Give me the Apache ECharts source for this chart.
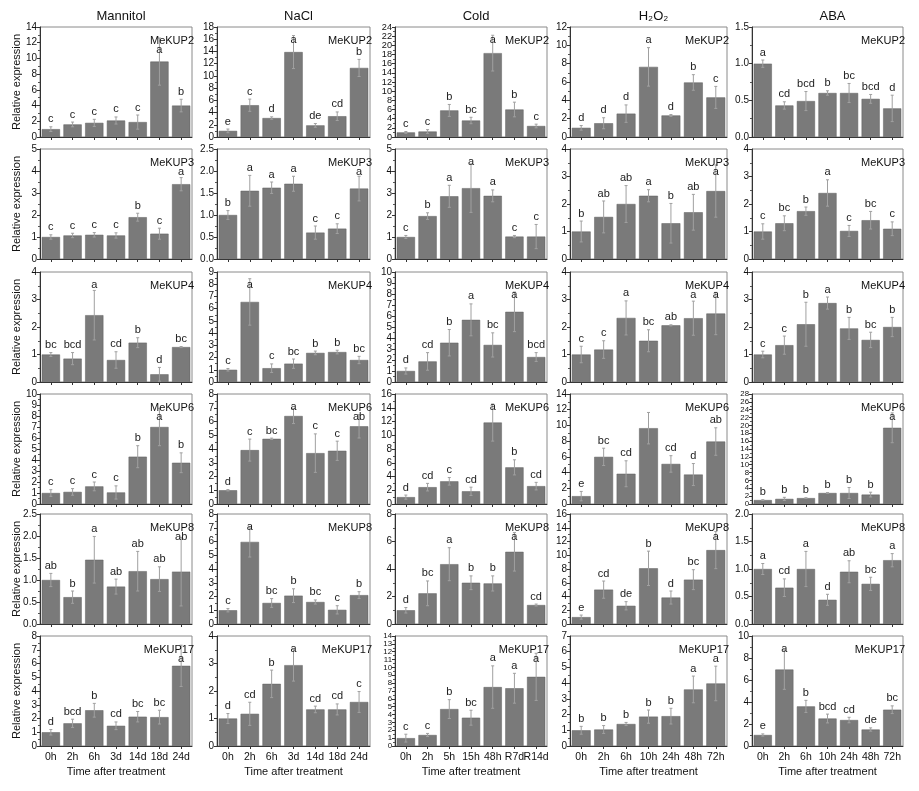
<!DOCTYPE html>
<html>
<head>
<meta charset="utf-8">
<script src="https://cdn.jsdelivr.net/npm/echarts@6/dist/echarts.min.js"></script>
<style>html,body{margin:0;padding:0;background:#fff}#c{width:919px;height:791px}</style>
</head>
<body>
<div id="c"></div>
<script>
// ---------- DATA ----------
const treatments = ['Mannitol', 'NaCl', 'Cold', 'H₂O₂', 'ABA'];
const genes = ['MeKUP2', 'MeKUP3', 'MeKUP4', 'MeKUP6', 'MeKUP8', 'MeKUP17'];

const catsMannitol = ['0h', '2h', '6h', '3d', '14d', '18d', '24d'];
const catsNaCl = ['0h', '2h', '6h', '3d', '14d', '18d', '24d'];
const catsCold = ['0h', '2h', '5h', '15h', '48h', 'R7d', 'R14d'];
const catsH2O2 = ['0h', '2h', '6h', '10h', '24h', '48h', '72h'];
const catsABA = ['0h', '2h', '6h', '10h', '24h', '48h', '72h'];

// per gene (rows): MeKUP2, MeKUP3, MeKUP4, MeKUP6, MeKUP8, MeKUP17
const mannitolMean = [
  [1.0, 1.6, 1.8, 2.1, 1.9, 9.6, 4.0],
  [1.0, 1.07, 1.1, 1.07, 1.9, 1.15, 3.4],
  [1.0, 0.85, 2.43, 0.8, 1.43, 0.28, 1.27],
  [1.0, 1.1, 1.6, 1.05, 4.3, 7.0, 3.75],
  [1.0, 0.61, 1.46, 0.85, 1.2, 1.02, 1.19],
  [1.0, 1.65, 2.6, 1.47, 2.13, 2.1, 5.83]
];
const mannitolErr = [
  [0.3, 0.3, 0.45, 0.45, 0.9, 3.0, 0.8],
  [0.1, 0.1, 0.1, 0.12, 0.18, 0.25, 0.3],
  [0.07, 0.22, 0.9, 0.3, 0.18, 0.25, 0.02],
  [0.3, 0.3, 0.4, 0.6, 1.0, 1.7, 0.9],
  [0.15, 0.14, 0.53, 0.17, 0.45, 0.28, 0.78],
  [0.2, 0.3, 0.5, 0.28, 0.38, 0.5, 1.5]
];
const mannitolSig = [
  ['c', 'c', 'c', 'c', 'c', 'a', 'b'],
  ['c', 'c', 'c', 'c', 'b', 'c', 'a'],
  ['bc', 'bcd', 'a', 'cd', 'b', 'd', 'bc'],
  ['c', 'c', 'c', 'c', 'b', 'a', 'b'],
  ['ab', 'b', 'a', 'ab', 'ab', 'ab', 'ab'],
  ['d', 'bcd', 'b', 'cd', 'bc', 'bc', 'a']
];
const mannitolYMax = [14, 5, 4, 10, 2.5, 8];
const mannitolYStep = [2, 1, 1, 1, 0.5, 1];

const naclMean = [
  [1.0, 5.2, 3.1, 13.9, 1.9, 3.4, 11.3],
  [1.0, 1.55, 1.62, 1.71, 0.6, 0.69, 1.6],
  [1.0, 6.55, 1.13, 1.5, 2.38, 2.45, 1.8],
  [1.0, 3.92, 4.74, 6.4, 3.7, 3.87, 5.65],
  [1.0, 5.97, 1.53, 2.06, 1.6, 1.03, 2.1],
  [1.0, 1.17, 2.26, 2.94, 1.33, 1.33, 1.6]
];
const naclErr = [
  [0.3, 1.0, 0.2, 2.7, 0.3, 0.7, 1.4],
  [0.1, 0.35, 0.13, 0.17, 0.15, 0.11, 0.28],
  [0.1, 1.9, 0.35, 0.38, 0.15, 0.15, 0.3],
  [0.05, 0.8, 0.05, 0.55, 1.4, 0.7, 0.85],
  [0.12, 1.1, 0.32, 0.5, 0.15, 0.3, 0.25],
  [0.18, 0.42, 0.5, 0.58, 0.12, 0.2, 0.38]
];
const naclSig = [
  ['e', 'c', 'd', 'a', 'de', 'cd', 'b'],
  ['b', 'a', 'a', 'a', 'c', 'c', 'a'],
  ['c', 'a', 'c', 'bc', 'b', 'b', 'bc'],
  ['d', 'c', 'bc', 'a', 'c', 'c', 'ab'],
  ['c', 'a', 'bc', 'b', 'bc', 'c', 'b'],
  ['d', 'cd', 'b', 'a', 'cd', 'cd', 'c']
];
const naclYMax = [18, 2.5, 9, 8, 8, 4];
const naclYStep = [2, 0.5, 1, 1, 1, 1];

const coldMean = [
  [1.0, 1.2, 5.8, 3.6, 18.3, 6.0, 2.4],
  [1.0, 1.95, 2.85, 3.22, 2.87, 1.02, 1.02],
  [1.0, 1.87, 3.57, 5.65, 3.37, 6.38, 2.27],
  [1.0, 2.45, 3.3, 1.85, 11.85, 5.33, 2.6],
  [1.0, 2.23, 4.35, 3.0, 2.95, 5.25, 1.38],
  [1.0, 1.4, 4.7, 3.6, 7.5, 7.35, 8.8]
];
const coldErr = [
  [0.2, 0.4, 1.3, 0.7, 3.9, 1.6, 0.4],
  [0.07, 0.15, 0.5, 1.1, 0.27, 0.05, 0.55],
  [0.28, 0.8, 1.2, 1.45, 1.1, 1.8, 0.4],
  [0.3, 0.55, 0.55, 0.6, 2.7, 1.1, 0.55],
  [0.2, 0.9, 1.2, 0.5, 0.55, 1.4, 0.07],
  [0.5, 0.2, 1.2, 0.95, 2.7, 1.9, 3.0]
];
const coldSig = [
  ['c', 'c', 'b', 'bc', 'a', 'b', 'c'],
  ['c', 'b', 'a', 'a', 'a', 'c', 'c'],
  ['d', 'cd', 'b', 'a', 'bc', 'a', 'bcd'],
  ['d', 'cd', 'c', 'cd', 'a', 'b', 'cd'],
  ['d', 'bc', 'a', 'b', 'b', 'a', 'cd'],
  ['c', 'c', 'b', 'bc', 'a', 'a', 'a']
];
const coldYMax = [24, 5, 10, 16, 8, 14];
const coldYStep = [2, 1, 1, 2, 2, 1];

const h2o2Mean = [
  [1.0, 1.5, 2.55, 7.65, 2.35, 5.95, 4.32],
  [1.0, 1.53, 2.0, 2.3, 1.3, 1.7, 2.47],
  [1.0, 1.18, 2.33, 1.5, 2.06, 2.32, 2.49],
  [1.0, 6.0, 3.85, 9.65, 5.1, 3.75, 7.95],
  [1.0, 5.0, 2.65, 8.1, 3.85, 6.45, 10.75],
  [1.0, 1.05, 1.4, 1.87, 1.9, 3.6, 3.98]
];
const h2o2Err = [
  [0.25, 0.6, 0.95, 2.1, 0.1, 0.85, 1.2],
  [0.38, 0.58, 0.67, 0.22, 0.72, 0.65, 0.95],
  [0.3, 0.32, 0.62, 0.4, 0.02, 0.62, 0.77],
  [0.6, 1.1, 1.65, 2.0, 1.05, 1.4, 1.75],
  [0.3, 1.25, 0.6, 2.5, 0.95, 1.45, 2.7],
  [0.25, 0.25, 0.1, 0.42, 0.5, 0.85, 1.1]
];
const h2o2Sig = [
  ['d', 'd', 'd', 'a', 'd', 'b', 'c'],
  ['b', 'ab', 'ab', 'a', 'b', 'ab', 'a'],
  ['c', 'c', 'a', 'bc', 'ab', 'a', 'a'],
  ['e', 'bc', 'cd', '', 'cd', 'd', 'ab'],
  ['e', 'cd', 'de', 'b', 'd', 'bc', 'a'],
  ['b', 'b', 'b', 'b', 'b', 'a', 'a']
];
const h2o2YMax = [12, 4, 4, 14, 16, 7];
const h2o2YStep = [2, 1, 1, 2, 2, 1];

const abaMean = [
  [1.0, 0.43, 0.49, 0.6, 0.6, 0.52, 0.39],
  [1.0, 1.3, 1.74, 2.4, 1.02, 1.41, 1.1],
  [1.0, 1.34, 2.1, 2.87, 1.95, 1.53, 2.0],
  [1.0, 1.3, 1.5, 2.8, 2.8, 2.4, 19.4],
  [1.0, 0.66, 1.0, 0.44, 0.95, 0.73, 1.16],
  [1.0, 6.95, 3.6, 2.5, 2.36, 1.5, 3.3]
];
const abaErr = [
  [0.05, 0.05, 0.13, 0.03, 0.13, 0.06, 0.18],
  [0.28, 0.27, 0.15, 0.48, 0.2, 0.32, 0.25],
  [0.12, 0.33, 0.8, 0.22, 0.4, 0.28, 0.35],
  [0.1, 0.4, 0.1, 0.1, 1.4, 0.6, 3.8],
  [0.1, 0.16, 0.32, 0.1, 0.2, 0.12, 0.12],
  [0.1, 1.8, 0.55, 0.4, 0.25, 0.15, 0.35]
];
const abaSig = [
  ['a', 'cd', 'bcd', 'b', 'bc', 'bcd', 'd'],
  ['c', 'bc', 'b', 'a', 'c', 'bc', 'c'],
  ['c', 'c', 'b', 'a', 'b', 'bc', 'b'],
  ['b', 'b', 'b', 'b', 'b', 'b', 'a'],
  ['a', 'cd', 'a', 'd', 'ab', 'bc', 'a'],
  ['e', 'a', 'b', 'bcd', 'cd', 'de', 'bc']
];
const abaYMax = [1.5, 4, 4, 28, 2.0, 10];
const abaYStep = [0.5, 1, 1, 2, 0.5, 2];

const yTitle = 'Relative expression';
const xTitle = 'Time after treatment';

// ---------- LAYOUT ----------
const colLeft = [40, 217, 395, 570, 752];
const colWidth = [152, 153, 152, 157, 151];
const rowTop = [27, 149, 272, 394, 514, 636];
const rowHeight = 110;
const FONT = '"Liberation Sans", Arial, sans-serif';

const columns = [
  {cats: catsMannitol, mean: mannitolMean, err: mannitolErr, sig: mannitolSig, ymax: mannitolYMax, ystep: mannitolYStep},
  {cats: catsNaCl, mean: naclMean, err: naclErr, sig: naclSig, ymax: naclYMax, ystep: naclYStep},
  {cats: catsCold, mean: coldMean, err: coldErr, sig: coldSig, ymax: coldYMax, ystep: coldYStep},
  {cats: catsH2O2, mean: h2o2Mean, err: h2o2Err, sig: h2o2Sig, ymax: h2o2YMax, ystep: h2o2YStep},
  {cats: catsABA, mean: abaMean, err: abaErr, sig: abaSig, ymax: abaYMax, ystep: abaYStep}
];

const grid = [], xAxis = [], yAxis = [], series = [], title = [];

columns.forEach((col, c) => {
  title.push({
    text: treatments[c], left: colLeft[c] + colWidth[c] / 2, top: 5, textAlign: 'center',
    textStyle: {fontFamily: FONT, fontSize: 13, fontWeight: 'normal', color: '#111'}
  });
  genes.forEach((g, r) => {
    const gi = grid.length;
    grid.push({
      left: colLeft[c], top: rowTop[r], width: colWidth[c], height: rowHeight,
      show: true, borderColor: '#8a8a8a', borderWidth: 1, backgroundColor: 'transparent'
    });
    const last = r === genes.length - 1;
    const ymax = col.ymax[r], step = col.ystep[r];
    const spacing = rowHeight / (ymax / step);
    const tickFont = Math.min(10, spacing);
    const fmt = v => (step < 1 ? v.toFixed(1) : String(Math.round(v)));
    xAxis.push({
      type: 'category', gridIndex: gi, data: col.cats, boundaryGap: true,
      axisLine: {show: true, lineStyle: {color: '#333', width: 1}},
      axisTick: {show: true, alignWithLabel: true, length: 3, lineStyle: {color: '#333'}},
      axisLabel: {show: last, fontFamily: FONT, fontSize: 10.5, color: '#111', margin: 6, interval: 0},
      name: last ? xTitle : '', nameLocation: 'middle', nameGap: 20,
      nameTextStyle: {fontFamily: FONT, fontSize: 11, color: '#111'}
    });
    yAxis.push({
      type: 'value', gridIndex: gi, min: 0, max: ymax, interval: step,
      axisLine: {show: true, lineStyle: {color: '#333', width: 1}},
      axisTick: {show: true, length: 3, lineStyle: {color: '#333'}},
      minorTick: {show: true, splitNumber: 2, length: 2, lineStyle: {color: '#555'}},
      splitLine: {show: false},
      axisLabel: {fontFamily: FONT, fontSize: tickFont, color: '#111', margin: 3, formatter: fmt,
        showMinLabel: true, showMaxLabel: true, hideOverlap: false},
      name: c === 0 ? yTitle : '', nameLocation: 'middle', nameGap: 18, nameRotate: 90,
      nameMoveOverlap: false,
      nameTextStyle: {fontFamily: FONT, fontSize: 11, color: '#111'}
    });
    title.push({
      text: g, left: colLeft[c] + colWidth[c] - 3, top: rowTop[r] + 3, textAlign: 'right',
      textStyle: {fontFamily: FONT, fontSize: 11, fontWeight: 'normal', color: '#111'}
    });
    series.push({
      type: 'bar', xAxisIndex: gi, yAxisIndex: gi, data: col.mean[r],
      barCategoryGap: '16%', silent: true,
      itemStyle: {color: '#7a7a7a', borderColor: '#5e5e5e', borderWidth: 0.5}
    });
    const sig = col.sig[r];
    const errData = col.mean[r].map((v, i) => [i, v, col.err[r][i]]);
    series.push({
      type: 'custom', xAxisIndex: gi, yAxisIndex: gi, data: errData, z: 5, silent: true,
      clip: false,
      renderItem: function (params, api) {
        const i = api.value(0), v = api.value(1), e = api.value(2);
        const top = api.coord([i, v + e]);
        const bot = api.coord([i, Math.max(0, v - e)]);
        const plotTop = api.coord([i, ymax])[1];
        const x = top[0];
        const cap = 1.5;
        const st = {stroke: '#a0a0a0', lineWidth: 1};
        const minOff = i >= 5 ? 28 : 18;
        const ty = Math.max(top[1] - 2, plotTop + minOff);
        return {
          type: 'group', children: [
            {type: 'line', shape: {x1: x, y1: top[1], x2: x, y2: bot[1]}, style: st},
            {type: 'line', shape: {x1: x - cap, y1: top[1], x2: x + cap, y2: top[1]}, style: st},
            {type: 'line', shape: {x1: x - cap, y1: bot[1], x2: x + cap, y2: bot[1]}, style: st},
            {type: 'text', z2: 10, style: {text: sig[params.dataIndex], x: x, y: ty, align: 'center', verticalAlign: 'bottom',
              fontFamily: FONT, fontSize: 11, fill: '#222'}}
          ]
        };
      }
    });
  });
});

const chart = echarts.init(document.getElementById('c'), null, {renderer: 'canvas'});
chart.setOption({
  animation: false, backgroundColor: '#fff',
  title, grid, xAxis, yAxis, series
});
</script>
</body>
</html>
